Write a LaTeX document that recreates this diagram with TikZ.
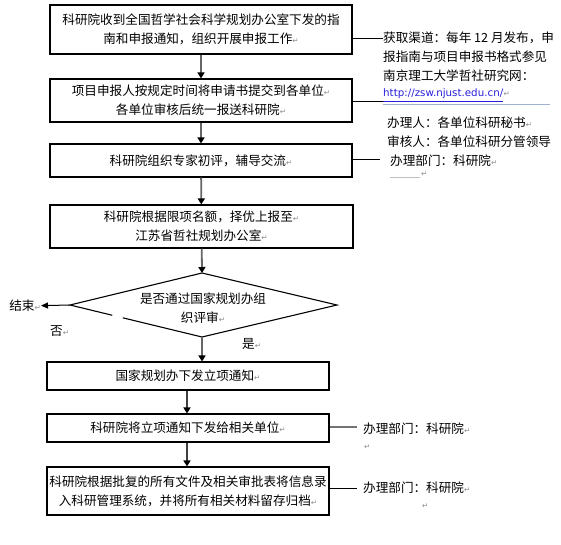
\documentclass[tikz,border=0pt]{standalone}
\usepackage{fontspec}
\setmainfont{Noto Sans CJK SC}
\newfontfamily\symfont{DejaVu Sans}
\usetikzlibrary{arrows.meta,calc}

\definecolor{linkblue}{RGB}{40,30,220}
\definecolor{markgray}{RGB}{140,140,140}
\definecolor{rulegray}{RGB}{160,180,210}
\newcommand\retmark{{\symfont\fontsize{7.5}{7.5}\selectfont\color{markgray}↵}}

\tikzset{
    stepbox/.style={draw, line width=1.1pt, inner sep=0pt, align=center},
    note/.style={anchor=west, inner sep=0pt},
    flow/.style={draw=black!60, line width=1.8pt,
        -{Triangle[width=7pt,length=6pt,color=black]}},
    flowdark/.style={draw=black!75, line width=1.6pt,
        -{Triangle[width=7pt,length=6pt,color=black]}},
    link/.style={line width=0.8pt},
}

\begin{document}
\begin{tikzpicture}[x=1pt, y=-1pt, font=\fontsize{12.6}{19}\selectfont]
    \useasboundingbox (0,0) rectangle (561,544);

    % main column
    \node[stepbox, minimum width=302pt, minimum height=49pt] (b1) at (201,29.5)
        {科研院收到全国哲学社会科学规划办公室下发的指\\南和申报通知，组织开展申报工作\retmark};
    \node[stepbox, minimum width=302pt, minimum height=43pt] (b2) at (201,100.5)
        {项目申报人按规定时间将申请书提交到各单位\retmark\\各单位审核后统一报送科研院\retmark};
    \node[stepbox, minimum width=302pt, minimum height=33pt] (b3) at (201,160.5)
        {科研院组织专家初评，辅导交流\retmark};
    \node[stepbox, minimum width=303pt, minimum height=43pt] (b4) at (201.5,226.5)
        {科研院根据限项名额，择优上报至\retmark\\江苏省哲社规划办公室\retmark};

    % decision
    \coordinate (dw) at (70,305);
    \coordinate (dn) at (202,273);
    \coordinate (de) at (337,305);
    \coordinate (ds) at (202,337);
    \node[align=center, inner sep=0pt] (q) at (203,308.5)
        {是否通过国家规划办组\\织评审\retmark};
    \draw[line width=1.1pt] ($(dw)!0.40!(ds)$) -- (ds) -- (de) -- (dn) -- (dw)
        -- ($(dw)!0.32!(ds)$);

    \node[stepbox, minimum width=282pt, minimum height=28pt] (b5) at (188,376)
        {国家规划办下发立项通知\retmark};
    \node[stepbox, minimum width=282pt, minimum height=28pt] (b6) at (188,428)
        {科研院将立项通知下发给相关单位\retmark};
    \node[stepbox, minimum width=282pt, minimum height=48pt] (b7) at (188,491)
        {科研院根据批复的所有文件及相关审批表将信息录\\入科研管理系统，并将所有相关材料留存归档\retmark};

    \draw[flow] (b1) -- (b2);
    \draw[flow] (b2) -- (b3);
    \draw[flow] (b3) -- (b4);
    \draw[flow] (b4) -- (dn);
    \draw[flow] (ds) -- (ds |- b5.north);
    \draw[flowdark] (b5.south -| 187,0) -- (b6.north -| 187,0);
    \draw[flowdark] (b6.south -| 187,0) -- (b7.north -| 187,0);

    % no / yes
    \node[anchor=east, inner sep=0pt] (stop) at (41,306) {结束\retmark};
    \draw[line width=1pt, -{Triangle[width=6pt,length=7pt]}] (dw) -- (stop);
    \node[note] (no) at (50,331) {否\retmark};
    \node[note] (yes) at (242,344) {是\retmark};

    % notes on the right
    \node[note] (i1) at (383,38) {获取渠道：每年 12 月发布，申};
    \node[note] (i2) at (383,57) {报指南与项目申报书格式参见};
    \node[note] (i3) at (383,76) {南京理工大学哲社研究网：};
    \node[note, font=\symfont\fontsize{10.3}{12}\selectfont, text=linkblue] (url) at (383,94)
        {http://zsw.njust.edu.cn/};
    \node[note] (urlmark) at (url.east) {\retmark};
    \coordinate (u) at (383,101);
    \draw[link] (i1.west -| b1.east) -- (i1.west);
    \draw[link] (b2.east |- u) -- (u);
    \draw[linkblue, line width=0.7pt] (u) -- (u -| url.east);
    \draw[rulegray, line width=0.8pt] (383,104) -- (550,104);

    \node[note] (w1) at (387,123) {办理人：各单位科研秘书\retmark};
    \node[note] (w2) at (387,142) {审核人：各单位科研分管领导};
    \node[note] (w3) at (390,161) {办理部门：科研院\retmark};
    \draw[link] (b3.east |- w3.west) ++(0,-2) coordinate (c3) -- (c3 -| 380,0);
    \draw[black!25, line width=0.6pt] (390,177) -- (420,177);
    \node[note] (w4) at (421,174) {\retmark};

    \node[note] (d6) at (363,429) {办理部门：科研院\retmark};
    \node[note] (e6) at (364,447) {\retmark};
    \draw[black!55, line width=1.8pt] (b6.east |- 0,427) -- (357,427);
    \node[note] (d7) at (363,488) {办理部门：科研院\retmark};
    \node[note] (e7) at (422,506) {\retmark};
    \draw[link] (b7.east |- d7.west) -- (d7.west -| 357,0);
\end{tikzpicture}
\end{document}
